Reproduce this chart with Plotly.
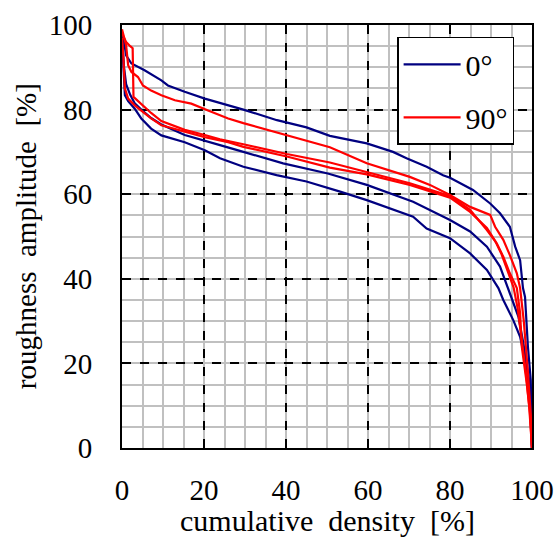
import plotly.graph_objects as go

# ---- data ----
b1_x = [0, 0.5, 1, 2.3, 5.5, 9.6, 11.2, 15.3, 20.2, 25.9, 29.6, 37.8, 45, 50.7, 59.7, 66.1, 69.4, 74.3, 78.3, 80, 85.6, 89.8, 92.2, 94.6, 95.9, 97.1, 97.8, 98.3, 99, 99.7, 100]
b1_y = [98, 96, 92.8, 90.9, 89.3, 86.9, 85.7, 84.2, 82.6, 81, 80, 77.5, 75.8, 73.8, 72, 70, 68.5, 66.5, 64.5, 63.9, 61, 57.8, 55.5, 52.3, 47.6, 44.4, 37.8, 35.7, 24, 16, 0]

b2_x = [0, 0.5, 1, 2, 3.1, 4.7, 7.1, 9.6, 15.3, 20.2, 23.9, 29.6, 39.3, 50.2, 53.2, 59.7, 71, 80, 84.9, 89, 92.2, 94.2, 96.7, 97.9, 98.7, 99.3, 99.7, 100]
b2_y = [97, 90, 86, 83.5, 81.5, 80, 78, 76.5, 74, 72.7, 71.6, 70, 67.3, 64.9, 64.1, 62.2, 58.2, 53.9, 51.2, 47.6, 42.9, 37.8, 31, 24.7, 20, 16, 8, 0]

b3_x = [0, 0.3, 0.7, 1.5, 3.1, 4.7, 7.1, 9.6, 15.3, 20.2, 23.9, 29.6, 37.7, 45, 50.7, 53.2, 59.7, 71, 74.3, 80, 84.9, 89, 91.8, 93, 95.4, 97.1, 98.3, 99.1, 99.6, 100]
b3_y = [97, 90, 83.4, 82, 80.2, 77.9, 75.5, 73.9, 72.3, 70.4, 68.5, 66.5, 64.5, 63, 61.4, 60.6, 58.6, 54.7, 51.9, 49.6, 46, 42.1, 37.8, 35, 30.3, 26.3, 20.8, 16, 8, 0]

r1_x = [0, 1, 1.5, 2.3, 3.9, 5.1, 7.1, 9.6, 12.9, 16.9, 21, 25.9, 29.6, 40.2, 50.7, 59.7, 70.2, 75.1, 80, 84.9, 89, 89.8, 91, 93, 94.6, 96.3, 97.1, 98, 99, 99.7, 100]
r1_y = [99, 95.2, 90.5, 88.9, 87.7, 85.7, 84.5, 83.4, 82.2, 81.4, 79.8, 77.9, 76.8, 74, 71.1, 67.3, 64.1, 62.2, 59.8, 57, 55.5, 55.1, 52.3, 49.2, 45.6, 41.3, 37.8, 30, 18, 8, 0]

r2_x = [0, 1, 2, 2.6, 2.8, 4.7, 7.1, 9.6, 15.3, 20.2, 23.9, 29.6, 40.2, 50.7, 59.7, 70.2, 80, 84.9, 89, 91.4, 93, 94.6, 96.3, 97.1, 97.5, 98.7, 99.5, 99.9, 100]
r2_y = [98, 96, 95, 94.5, 83, 81.3, 79.2, 77.3, 75.2, 74, 73, 71.8, 69.5, 67.5, 65.2, 62.6, 59.6, 56.3, 51.5, 48.4, 45.2, 41.3, 37.8, 31.9, 24, 15.4, 8.3, 2, 0]

r3_x = [0, 0.3, 0.7, 1.5, 3.1, 4.7, 7.1, 9.6, 15.3, 20.2, 25.9, 29.6, 40.2, 50.7, 59.7, 70.2, 80, 84.9, 89, 91, 92.5, 94, 95.5, 96.5, 97.5, 98.5, 99.3, 100]
r3_y = [97, 93, 85, 82.6, 81, 79.8, 77.9, 76.3, 74.7, 73.5, 72.3, 71.2, 68.9, 66.3, 64.7, 62.2, 59.2, 55.8, 52, 49, 46, 42, 38, 33, 26, 18, 10, 0]

blue_series = [(b1_x, b1_y), (b2_x, b2_y), (b3_x, b3_y)]
red_series = [(r1_x, r1_y), (r2_x, r2_y), (r3_x, r3_y)]

major_ticks = [0, 20, 40, 60, 80, 100]
tick_labels = ["0", "20", "40", "60", "80", "100"]

BLUE = "#000080"
RED = "#FF0000"
FONT = "'Liberation Serif', 'DejaVu Serif', serif"

fig = go.Figure()
for i, (xs, ys) in enumerate(blue_series):
    fig.add_trace(go.Scatter(x=xs, y=ys, mode="lines", line=dict(color=BLUE, width=2.2),
                             name="0°", legendgroup="a", showlegend=(i == 0)))
for i, (xs, ys) in enumerate(red_series):
    fig.add_trace(go.Scatter(x=xs, y=ys, mode="lines", line=dict(color=RED, width=2.2),
                             name="90°", legendgroup="b", showlegend=(i == 0)))

axis_common = dict(
    range=[0, 100], tickvals=major_ticks, ticktext=tick_labels,
    showgrid=True, gridcolor="black", gridwidth=1.5, griddash="dash",
    minor=dict(dtick=5, showgrid=True, gridcolor="#c0c0c0", gridwidth=2, griddash="solid", ticks=""),
    showline=True, linecolor="black", linewidth=2, mirror=True,
    ticks="inside", ticklen=5, tickcolor="black", tickwidth=1.5,
    tickfont=dict(family=FONT, size=29, color="black"),
    zeroline=False, fixedrange=True, automargin=False,
)

fig.update_xaxes(**axis_common, ticklabelstandoff=15)
fig.update_yaxes(**axis_common, ticklabelstandoff=22)

NB = "\u00a0"
fig.add_annotation(text=f"cumulative{NB}{NB}density{NB}{NB}[%]", xref="paper", yref="paper",
                   x=0.5, y=-0.172, xanchor="center", yanchor="middle", showarrow=False,
                   font=dict(family=FONT, size=30, color="black"))
fig.add_annotation(text=f"roughness{NB}{NB}amplitude{NB}{NB}[%]", xref="paper", yref="paper",
                   x=-0.235, y=0.5, xanchor="center", yanchor="middle", showarrow=False, textangle=-90,
                   font=dict(family=FONT, size=29, color="black"))

fig.update_layout(
    width=556, height=551,
    margin=dict(l=122, r=24, t=25, b=103, autoexpand=False),
    plot_bgcolor="white", paper_bgcolor="white",
    font=dict(family=FONT),
    showlegend=True,
    legend=dict(x=0.671, y=0.972, xanchor="left", yanchor="top",
                bgcolor="white", bordercolor="black", borderwidth=1.5,
                font=dict(family=FONT, size=30, color="black"),
                itemwidth=57, tracegroupgap=11, traceorder="grouped"),
)

fig.write_html("out.html")
